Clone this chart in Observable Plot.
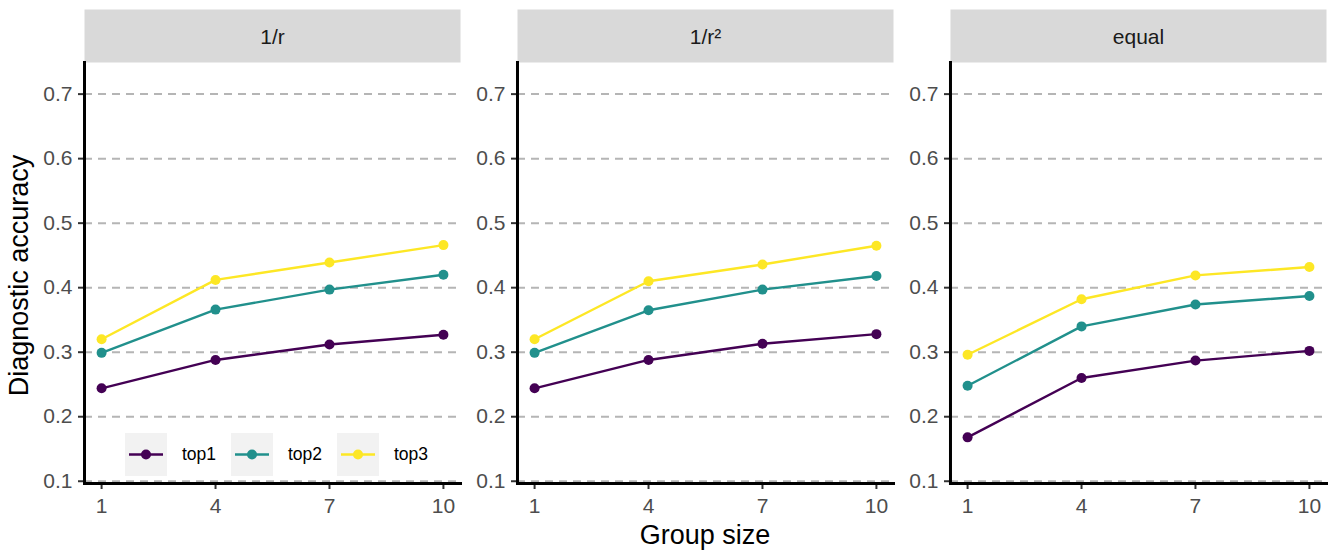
<!DOCTYPE html>
<html>
<head>
<meta charset="utf-8">
<script src="https://cdn.jsdelivr.net/npm/d3@7"></script>
<script src="https://cdn.jsdelivr.net/npm/@observablehq/plot@0.6"></script>
<style>
  body { margin: 0; background: #fff; }
  #chart { position: relative; width: 1335px; height: 555px; font-family: Arial, "Liberation Sans", sans-serif; }
  #chart svg { position: absolute; left: 0; top: 0; }
  .axis-title { position: absolute; font-size: 27px; line-height: 27px; color: #000; text-align: center; white-space: nowrap; }
  .legend-item { position: absolute; top: 433px; height: 43px; display: flex; align-items: center; font-size: 17.5px; color: #000; }
  .legend-item .key { width: 42px; height: 43px; background: #f2f2f2; margin-right: 15px; }
</style>
</head>
<body>
<div id="chart"></div>
<script>
// Facets (distance weighting scheme) and x positions (group size)
const weightings = ["1/r", "1/r²", "equal"];
const groupSizes = [1, 4, 7, 10];
const seriesNames = ["top1", "top2", "top3"];
const seriesColors = ["#440154", "#21908C", "#FDE725"];

// Diagnostic accuracy per weighting and top-k series
const invR_top1 = [0.244, 0.288, 0.312, 0.327];
const invR_top2 = [0.299, 0.366, 0.397, 0.420];
const invR_top3 = [0.320, 0.412, 0.439, 0.466];

const invR2_top1 = [0.244, 0.288, 0.313, 0.328];
const invR2_top2 = [0.299, 0.365, 0.397, 0.418];
const invR2_top3 = [0.320, 0.410, 0.436, 0.465];

const equal_top1 = [0.168, 0.260, 0.287, 0.302];
const equal_top2 = [0.248, 0.340, 0.374, 0.387];
const equal_top3 = [0.296, 0.382, 0.419, 0.432];

// Axis ticks
const xTicks = [1, 4, 7, 10];
const yTicks = [0.1, 0.2, 0.3, 0.4, 0.5, 0.6, 0.7];

// Long-format table for Plot
const panels = [
  [invR_top1, invR_top2, invR_top3],
  [invR2_top1, invR2_top2, invR2_top3],
  [equal_top1, equal_top2, equal_top3]
];
const rows = [];
weightings.forEach((w, i) => {
  panels[i].forEach((values, j) => {
    values.forEach((v, k) => {
      rows.push({weighting: w, series: seriesNames[j], size: groupSizes[k], acc: v});
    });
  });
});

const chart = Plot.plot({
  width: 1335,
  height: 555,
  marginTop: 62,
  marginBottom: 72,
  marginLeft: 84,
  marginRight: 9,
  style: {fontFamily: 'Arial, "Liberation Sans", sans-serif', fontSize: "21px", background: "transparent", overflow: "visible"},
  fx: {domain: weightings, paddingInner: 0.1316, paddingOuter: 0, round: false, label: null},
  x: {domain: [0.55, 10.45], label: null},
  y: {domain: [0.0965, 0.749], label: null},
  color: {domain: seriesNames, range: seriesColors},
  marks: [
    // facet strips
    Plot.frame({fill: "#d9d9d9", stroke: "none", insetTop: -53, insetBottom: 421}),
    Plot.gridY(yTicks, {stroke: "#b5b5b5", strokeOpacity: 1, strokeWidth: 2, strokeDasharray: "8,6"}),
    Plot.axisFx({anchor: "top", tickSize: 0, tickPadding: 19, fontSize: 21, fill: "#1a1a1a", label: null}),
    Plot.axisY(yTicks, {facetAnchor: null, tickSize: 6, tickPadding: 6, stroke: "#333", strokeWidth: 2, fill: "#4d4d4d", fontSize: 21, label: null, tickFormat: d3.format(".1f")}),
    Plot.axisX(xTicks, {tickSize: 6, tickPadding: 9, stroke: "#333", strokeWidth: 2, fill: "#4d4d4d", fontSize: 21, label: null, tickFormat: d3.format("d")}),
    Plot.line(rows, {fx: "weighting", x: "size", y: "acc", z: "series", stroke: "series", strokeWidth: 2.4}),
    Plot.dot(rows, {fx: "weighting", x: "size", y: "acc", fill: "series", r: 5}),
    // axis lines
    Plot.frame({anchor: "left", stroke: "#000", strokeWidth: 3}),
    Plot.frame({anchor: "bottom", stroke: "#000", strokeWidth: 3})
  ]
});

const root = document.getElementById("chart");
root.appendChild(chart);

// Axis titles
const xTitle = document.createElement("div");
xTitle.className = "axis-title";
xTitle.textContent = "Group size";
xTitle.style.left = "505px";
xTitle.style.width = "400px";
xTitle.style.top = "522px";
root.appendChild(xTitle);

const yTitle = document.createElement("div");
yTitle.className = "axis-title";
yTitle.textContent = "Diagnostic accuracy";
yTitle.style.width = "400px";
yTitle.style.height = "27px";
yTitle.style.left = (19 - 200) + "px";
yTitle.style.top = (275 - 13.5) + "px";
yTitle.style.transform = "rotate(-90deg)";
root.appendChild(yTitle);

// Legend inside the first panel
seriesNames.forEach((name, i) => {
  const item = document.createElement("div");
  item.className = "legend-item";
  item.style.left = (125 + i * 106) + "px";
  const key = document.createElement("div");
  key.className = "key";
  key.innerHTML = `<svg width="42" height="43"><line x1="4" x2="38" y1="21.5" y2="21.5" stroke="${seriesColors[i]}" stroke-width="2.4"/><circle cx="21" cy="21.5" r="5" fill="${seriesColors[i]}"/></svg>`;
  const label = document.createElement("span");
  label.textContent = name;
  item.appendChild(key);
  item.appendChild(label);
  root.appendChild(item);
});
</script>
</body>
</html>
